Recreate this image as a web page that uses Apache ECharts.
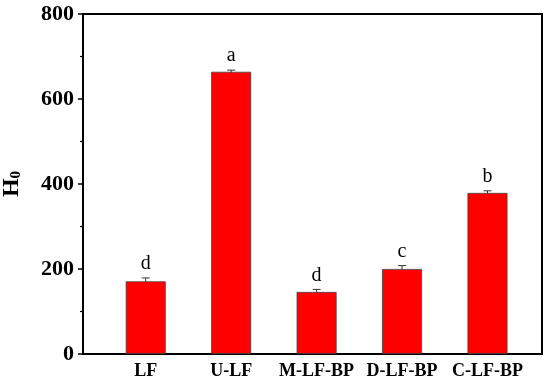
<!DOCTYPE html>
<html>
<head>
<meta charset="utf-8">
<script src="https://cdn.jsdelivr.net/npm/echarts@6/dist/echarts.min.js"></script>
<style>html,body{margin:0;padding:0;background:#fff;}#c{width:550px;height:385px;}</style>
</head>
<body>
<div id="c"></div>
<script>
var categories = ['LF', 'U-LF', 'M-LF-BP', 'D-LF-BP', 'C-LF-BP'];
var values = [171, 664, 146, 200, 379];
var errors = [8, 4, 6, 8, 5];
var letters = ['d', 'a', 'd', 'c', 'b'];
var yTicks = [0, 200, 400, 600, 800];

var serif = '"Liberation Serif", "Times New Roman", serif';
var chart = echarts.init(document.getElementById('c'));
var gTop = 14, gBottom = 31;
chart.setOption({
  animation: false,
  grid: [
    { left: 103, right: 19.8, top: gTop, bottom: gBottom, containLabel: false, outerBoundsMode: 'none' },
    { left: 83, right: 8, top: gTop, bottom: gBottom, containLabel: false, outerBoundsMode: 'none',
      show: true, borderColor: '#000', borderWidth: 2, backgroundColor: 'transparent' }
  ],
  xAxis: [
    { type: 'category', gridIndex: 0, data: categories,
      axisLine: { show: false }, axisTick: { show: false },
      axisLabel: { interval: 0, hideOverlap: false, fontFamily: serif, fontWeight: 'bold', fontSize: 18, color: '#000', margin: 8 } },
    { type: 'value', gridIndex: 1, show: false, min: 0, max: 1 }
  ],
  yAxis: [
    { type: 'value', gridIndex: 0, min: yTicks[0], max: yTicks[yTicks.length - 1], interval: 200, show: false },
    { type: 'value', gridIndex: 1, min: yTicks[0], max: yTicks[yTicks.length - 1], interval: 200,
      axisLine: { show: true, lineStyle: { color: '#000', width: 2 } },
      axisTick: { show: true, length: 5, lineStyle: { color: '#000', width: 1.5 } },
      minorTick: { show: true, splitNumber: 2, length: 3, lineStyle: { color: '#000', width: 1.2 } },
      splitLine: { show: false },
      axisLabel: { fontFamily: serif, fontWeight: 'bold', fontSize: 22, color: '#000', margin: 9 },
      name: '{a|H}{b|0}', nameLocation: 'middle', nameGap: 59, nameRotate: 90,
      nameTextStyle: { rich: {
        a: { fontFamily: serif, fontWeight: 'bold', fontSize: 24, color: '#000' },
        b: { fontFamily: serif, fontWeight: 'bold', fontSize: 15, color: '#000', padding: [9, 0, 0, 0] }
      } } }
  ],
  series: [
    { type: 'bar', xAxisIndex: 0, yAxisIndex: 0, data: values, barWidth: 40,
      itemStyle: { color: '#ff0000', borderColor: '#444', borderWidth: 0.8 } },
    { type: 'custom', xAxisIndex: 0, yAxisIndex: 0,
      data: values.map(function (v, i) { return [i, v, errors[i]]; }),
      renderItem: function (params, api) {
        var i = api.value(0), v = api.value(1), e = api.value(2);
        var hi = api.coord([i, v + e]);
        var lo = api.coord([i, v - e]);
        var w = 4;
        var st = { stroke: '#333', lineWidth: 1 };
        return { type: 'group', children: [
          { type: 'line', shape: { x1: hi[0], y1: hi[1], x2: lo[0], y2: lo[1] }, style: st },
          { type: 'line', shape: { x1: hi[0] - w, y1: hi[1], x2: hi[0] + w, y2: hi[1] }, style: st },
          { type: 'line', shape: { x1: lo[0] - w, y1: lo[1], x2: lo[0] + w, y2: lo[1] }, style: st },
          { type: 'text', style: { text: letters[params.dataIndex], x: hi[0], y: hi[1] - 4,
            align: 'center', verticalAlign: 'bottom', fontFamily: serif, fontSize: 20, fill: '#000' } }
        ] };
      }
    }
  ]
});
</script>
</body>
</html>
